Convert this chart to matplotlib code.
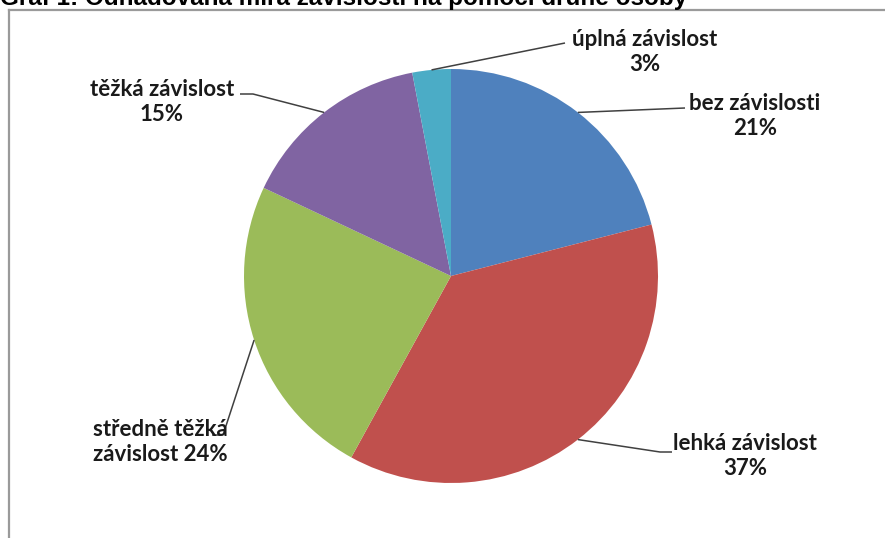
import numpy as np
import matplotlib.pyplot as plt
from matplotlib.lines import Line2D

labels = ['bez závislosti', 'lehká závislost', 'středně těžká\nzávislost', 'těžká závislost', 'úplná závislost']
shares = [21, 37, 24, 15, 3]
colors = ['#4F81BD', '#C0504D', '#9BBB59', '#8064A2', '#4BACC6']

W, H = 885, 538
fig = plt.figure(figsize=(W / 100, H / 100), dpi=100)
ax = fig.add_axes([0, 0, 1, 1])

# pie centre / radius in pixel units (y measured from bottom)
cx, cy, r = 451, H - 276, 207
wedges, _ = ax.pie(shares, colors=colors, startangle=90, counterclock=False,
                   center=(cx, cy), radius=r, frame=True,
                   wedgeprops=dict(linewidth=0))
ax.set_xlim(0, W)
ax.set_ylim(0, H)
ax.set_aspect('equal')
ax.axis('off')

# label layout: centre of text block and leader elbow points (pixels from top)
layout = [
    dict(tx=755, ty=116, elbow=[(685, 108)], single=False),
    dict(tx=745, ty=456, elbow=[(660, 452), (672, 452)], single=False),
    dict(tx=160, ty=442, elbow=[(223, 435), (212, 435)], single=True),
    dict(tx=162, ty=102, elbow=[(253, 94), (240, 94)], single=False),
    dict(tx=645, ty=52, elbow=[(565, 43)], single=False),
]

font = dict(family='Lato', weight='bold', size=16, color='#1a1a1a')
for w, lab, val, lay in zip(wedges, labels, shares, layout):
    ang = np.deg2rad((w.theta1 + w.theta2) / 2)
    x0, y0 = cx + r * np.cos(ang), cy + r * np.sin(ang)
    xs = [x0] + [p[0] for p in lay['elbow']]
    ys = [y0] + [H - p[1] for p in lay['elbow']]
    ax.plot(xs, ys, color='#404040', lw=1.1, solid_capstyle='butt')
    sep = ' ' if lay['single'] else '\n'
    txt = lab + sep + str(val) + '%'
    ax.text(lay['tx'], H - lay['ty'], txt, ha='center', va='center',
            linespacing=1.25, **font)

# outer chart frame, cut off to the right and bottom
fig.add_artist(Line2D([9 / W, 9 / W], [0, 1 - 10 / H], color='#9a9a9a', lw=1.6))
fig.add_artist(Line2D([9 / W, 1], [1 - 10 / H, 1 - 10 / H], color='#9a9a9a', lw=1.6))

# title, mostly outside the top of the image (as in the source)
fig.text(0.0, 1 - 5 / H, 'Graf 1: Odhadovaná míra závislosti na pomoci druhé osoby',
         ha='left', va='baseline', family='Liberation Sans', weight='bold',
         size=17.5, color='black')

fig.savefig('out.png', dpi=100)
